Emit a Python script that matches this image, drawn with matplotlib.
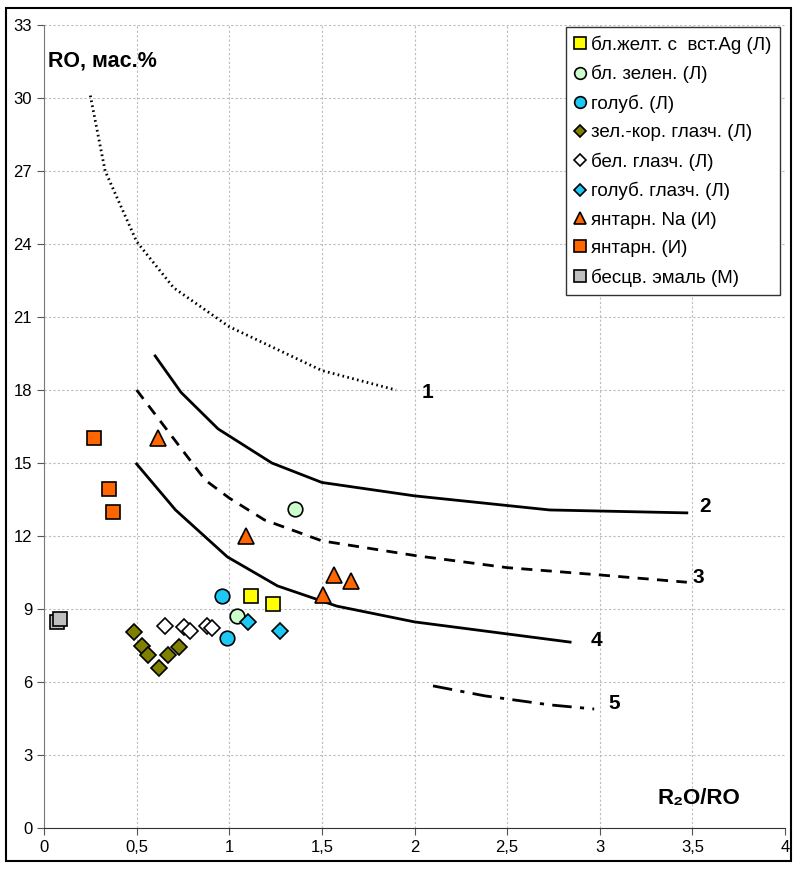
import matplotlib
matplotlib.use("Agg")
import matplotlib.pyplot as plt
from matplotlib.patches import Rectangle

plt.rcParams['font.family'] = ['Liberation Sans', 'DejaVu Sans']

# boundary curves 1..5
c1_x = [0.25, 0.33, 0.5, 0.7, 1.0, 1.5, 1.9]
c1_y = [30.1, 27.0, 24.1, 22.2, 20.6, 18.8, 18.0]
c2_x = [0.6, 0.74, 0.94, 1.23, 1.5, 2.0, 2.73, 3.47]
c2_y = [19.4, 17.9, 16.4, 15.0, 14.2, 13.65, 13.07, 12.95]
c3_x = [0.5, 0.87, 1.0, 1.19, 1.5, 2.0, 2.5, 3.0, 3.47]
c3_y = [18.0, 14.3, 13.56, 12.66, 11.8, 11.2, 10.7, 10.4, 10.1]
c4_x = [0.5, 0.71, 0.99, 1.26, 1.58, 2.0, 2.84]
c4_y = [14.96, 13.07, 11.14, 9.95, 9.12, 8.47, 7.64]
c5_x = [2.1, 2.38, 2.73, 2.97]
c5_y = [5.84, 5.43, 5.06, 4.89]

curve_labels = ['1', '2', '3', '4', '5']
label_x = [2.07, 3.57, 3.53, 2.98, 3.08]
label_y = [17.9, 13.2, 10.3, 7.7, 5.1]

# samples
yel_x = [1.116, 1.238]
yel_y = [9.53, 9.19]
lgreen_x = [1.04, 1.355]
lgreen_y = [8.71, 13.1]
blue_x = [0.959, 0.99]
blue_y = [9.53, 7.82]
olive_x = [0.486, 0.53, 0.56, 0.623, 0.671, 0.727]
olive_y = [8.04, 7.49, 7.13, 6.56, 7.13, 7.42]
white_x = [0.653, 0.756, 0.788, 0.878, 0.907]
white_y = [8.31, 8.27, 8.09, 8.31, 8.2]
bluedia_x = [1.103, 1.274]
bluedia_y = [8.45, 8.09]
tri_x = [0.615, 1.09, 1.567, 1.659, 1.508]
tri_y = [16.03, 12.0, 10.4, 10.16, 9.58]
orsq_x = [0.27, 0.349, 0.371]
orsq_y = [16.04, 13.95, 13.0]
gray_x = [0.072, 0.088]
gray_y = [8.45, 8.58]

fig = plt.figure(figsize=(7.97, 8.69), dpi=100)
ax = fig.add_axes([44/797, 41/869, 741/797, 803/869])

ax.plot(c1_x, c1_y, color='black', lw=2, linestyle=(0, (0.6, 1.2)))
ax.plot(c2_x, c2_y, color='black', lw=2)
ax.plot(c3_x, c3_y, color='black', lw=2, linestyle=(0, (4, 3)))
ax.plot(c4_x, c4_y, color='black', lw=2)
ax.plot(c5_x, c5_y, color='black', lw=2, linestyle=(0, (7, 3, 1.5, 3)))
for t, x, y in zip(curve_labels, label_x, label_y):
    ax.text(x, y, t, fontsize=15, fontweight='bold', va='center', ha='center')

kw = dict(linestyle='none', markeredgecolor='black', markeredgewidth=1.2)
ax.plot(yel_x, yel_y, 's', ms=10, mfc='#ffff00', label='бл.желт. с  вст.Ag (Л)', **kw)
ax.plot(lgreen_x, lgreen_y, 'o', ms=10.5, mfc='#ccffcc', label='бл. зелен. (Л)', **kw)
ax.plot(blue_x, blue_y, 'o', ms=10.5, mfc='#1ec8f5', label='голуб. (Л)', **kw)
ax.plot(olive_x, olive_y, 'D', ms=8, mfc='#808000', label='зел.-кор. глазч. (Л)', **kw)
ax.plot(white_x, white_y, 'D', ms=8, mfc='white', label='бел. глазч. (Л)', **kw)
ax.plot(bluedia_x, bluedia_y, 'D', ms=8, mfc='#1ec8f5', label='голуб. глазч. (Л)', **kw)
ax.plot(tri_x, tri_y, '^', ms=11, mfc='#ff6600', label='янтарн. Na (И)', **kw)
ax.plot(orsq_x, orsq_y, 's', ms=10, mfc='#ff6600', label='янтарн. (И)', **kw)
ax.plot(gray_x, gray_y, 's', ms=10, mfc='#c0c0c0', label='бесцв. эмаль (М)', **kw)

ax.set_xlim(0, 4)
ax.set_ylim(0, 33)
xt = [0, 0.5, 1, 1.5, 2, 2.5, 3, 3.5, 4]
ax.set_xticks(xt)
ax.set_xticklabels([str(v).replace('.', ',') for v in xt])
ax.set_yticks(range(0, 34, 3))
ax.tick_params(labelsize=12, direction='out', length=5, color='#555555')
ax.grid(True, color='#bbbbbb', linestyle=(0, (2, 2)), lw=0.8)
ax.set_axisbelow(True)
for s in ['top', 'right']:
    ax.spines[s].set_visible(False)
ax.spines['left'].set_color('#777777')
ax.spines['bottom'].set_color('#333333')

ax.text(0.02, 31.5, 'RO, мас.%', fontsize=15.5, fontweight='bold', va='center')
ax.text(3.76, 1.2, 'R₂O/RO', fontsize=16, fontweight='bold', ha='right', va='center')

leg = ax.legend(loc='upper right', bbox_to_anchor=(0.996, 1.0), fontsize=13.5,
                handlelength=0.6, handletextpad=0.3, labelspacing=0.6,
                borderpad=0.45, borderaxespad=0.1, fancybox=False, framealpha=1,
                markerscale=0.8)
leg.get_frame().set_edgecolor('#333333')

fig.patches.append(Rectangle((6/797, 8/869), 785/797, 853/869, transform=fig.transFigure,
                             fill=False, edgecolor='black', lw=1.5))

plt.savefig('out.png', dpi=100)
